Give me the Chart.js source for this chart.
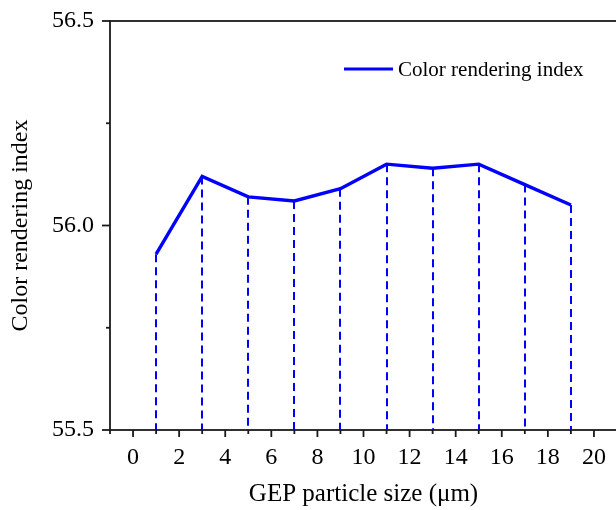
<!DOCTYPE html>
<html>
<head>
<meta charset="utf-8">
<script src="https://cdn.jsdelivr.net/npm/chart.js@4"></script>
<style>
  html, body { margin: 0; padding: 0; background: #fff; overflow: hidden; }
  #wrap { width: 618px; height: 510px; }
</style>
</head>
<body>
<div id="wrap"><canvas id="c" width="618" height="510"></canvas></div>
<script>
// ── data ──────────────────────────────────────────────
const sizes = [1, 3, 5, 7, 9, 11, 13, 15, 17, 19];
const cri   = [55.93, 56.12, 56.07, 56.06, 56.09, 56.15, 56.14, 56.15, 56.10, 56.05];

const xMajorTicks = [0, 2, 4, 6, 8, 10, 12, 14, 16, 18, 20];
const xMinorTicks = [-1, 1, 3, 5, 7, 9, 11, 13, 15, 17, 19, 21];
const yMajorTicks = [55.5, 56.0, 56.5];
const yMinorTicks = [55.75, 56.25];

const SERIF = "'Liberation Serif', 'Times New Roman', serif";
const BLUE  = '#0000ff';
const INK   = '#1a1a1a';

// frame, tick marks, drop lines, legend
const decorPlugin = {
  id: 'decor',
  beforeDatasetsDraw(chart) {
    const { ctx } = chart;
    const xs = chart.scales.x, ys = chart.scales.y;
    const bottom = chart.chartArea.bottom;
    ctx.save();
    ctx.strokeStyle = BLUE;
    ctx.lineWidth = 2;
    ctx.setLineDash([8, 5]);
    sizes.forEach((s, i) => {
      const px = Math.round(xs.getPixelForValue(s));
      ctx.beginPath();
      ctx.moveTo(px, ys.getPixelForValue(cri[i]));
      ctx.lineTo(px, bottom);
      ctx.stroke();
    });
    ctx.restore();
  },
  afterDraw(chart) {
    const { ctx, chartArea: a } = chart;
    const xs = chart.scales.x, ys = chart.scales.y;
    ctx.save();
    ctx.strokeStyle = INK;
    ctx.lineWidth = 1.8;
    ctx.strokeRect(a.left, a.top, a.right - a.left, a.bottom - a.top);

    const tick = (x1, y1, x2, y2) => {
      ctx.beginPath(); ctx.moveTo(x1, y1); ctx.lineTo(x2, y2); ctx.stroke();
    };
    yMajorTicks.forEach(v => { const y = ys.getPixelForValue(v); tick(a.left - 8, y, a.left, y); });
    yMinorTicks.forEach(v => { const y = ys.getPixelForValue(v); tick(a.left - 4, y, a.left, y); });
    xMajorTicks.forEach(v => { const x = xs.getPixelForValue(v); tick(x, a.bottom, x, a.bottom + 7); });
    xMinorTicks.forEach(v => { const x = xs.getPixelForValue(v); tick(x, a.bottom, x, a.bottom + 4); });

    // legend
    ctx.strokeStyle = BLUE;
    ctx.lineWidth = 3.2;
    tick(344, 69, 393, 69);
    ctx.fillStyle = '#000';
    ctx.font = '21px ' + SERIF;
    ctx.textBaseline = 'middle';
    ctx.textAlign = 'left';
    ctx.fillText(chart.data.datasets[0].label, 398, 70);
    ctx.restore();
  }
};

new Chart(document.getElementById('c'), {
  type: 'line',
  data: {
    datasets: [{
      label: 'Color rendering index',
      data: sizes.map((s, i) => ({ x: s, y: cri[i] })),
      borderColor: BLUE,
      borderWidth: 3.4,
      pointRadius: 0,
      tension: 0,
      fill: false,
    }]
  },
  options: {
    responsive: false,
    animation: false,
    layout: { padding: { top: 21, right: 1, left: 0, bottom: 0 } },
    plugins: { legend: { display: false }, tooltip: { enabled: false } },
    scales: {
      x: {
        type: 'linear',
        min: -1, max: 21,
        grid: { display: false },
        border: { display: false },
        afterBuildTicks: s => { s.ticks = xMajorTicks.map(v => ({ value: v })); },
        afterFit: s => { s.height = 80; s.paddingLeft = 0; s.paddingRight = 0; },
        ticks: { color: '#000', padding: 5, maxRotation: 0, autoSkip: false,
                 font: { family: SERIF, size: 24 } },
        title: { display: true, text: 'GEP particle size (μm)', color: '#000',
                 padding: { top: 0, bottom: 1 }, font: { family: SERIF, size: 25 } }
      },
      y: {
        min: 55.5, max: 56.5,
        grid: { display: false },
        border: { display: false },
        afterBuildTicks: s => { s.ticks = yMajorTicks.map(v => ({ value: v })); },
        afterFit: s => { s.width = 110; s.paddingTop = 0; s.paddingBottom = 0; },
        ticks: { color: '#000', padding: 8, callback: v => v.toFixed(1),
                 font: { family: SERIF, size: 24 } },
        title: { display: true, text: 'Color rendering index', color: '#000',
                 padding: { top: 6, bottom: 0 }, font: { family: SERIF, size: 24 } }
      }
    }
  },
  plugins: [decorPlugin]
});
</script>
</body>
</html>
